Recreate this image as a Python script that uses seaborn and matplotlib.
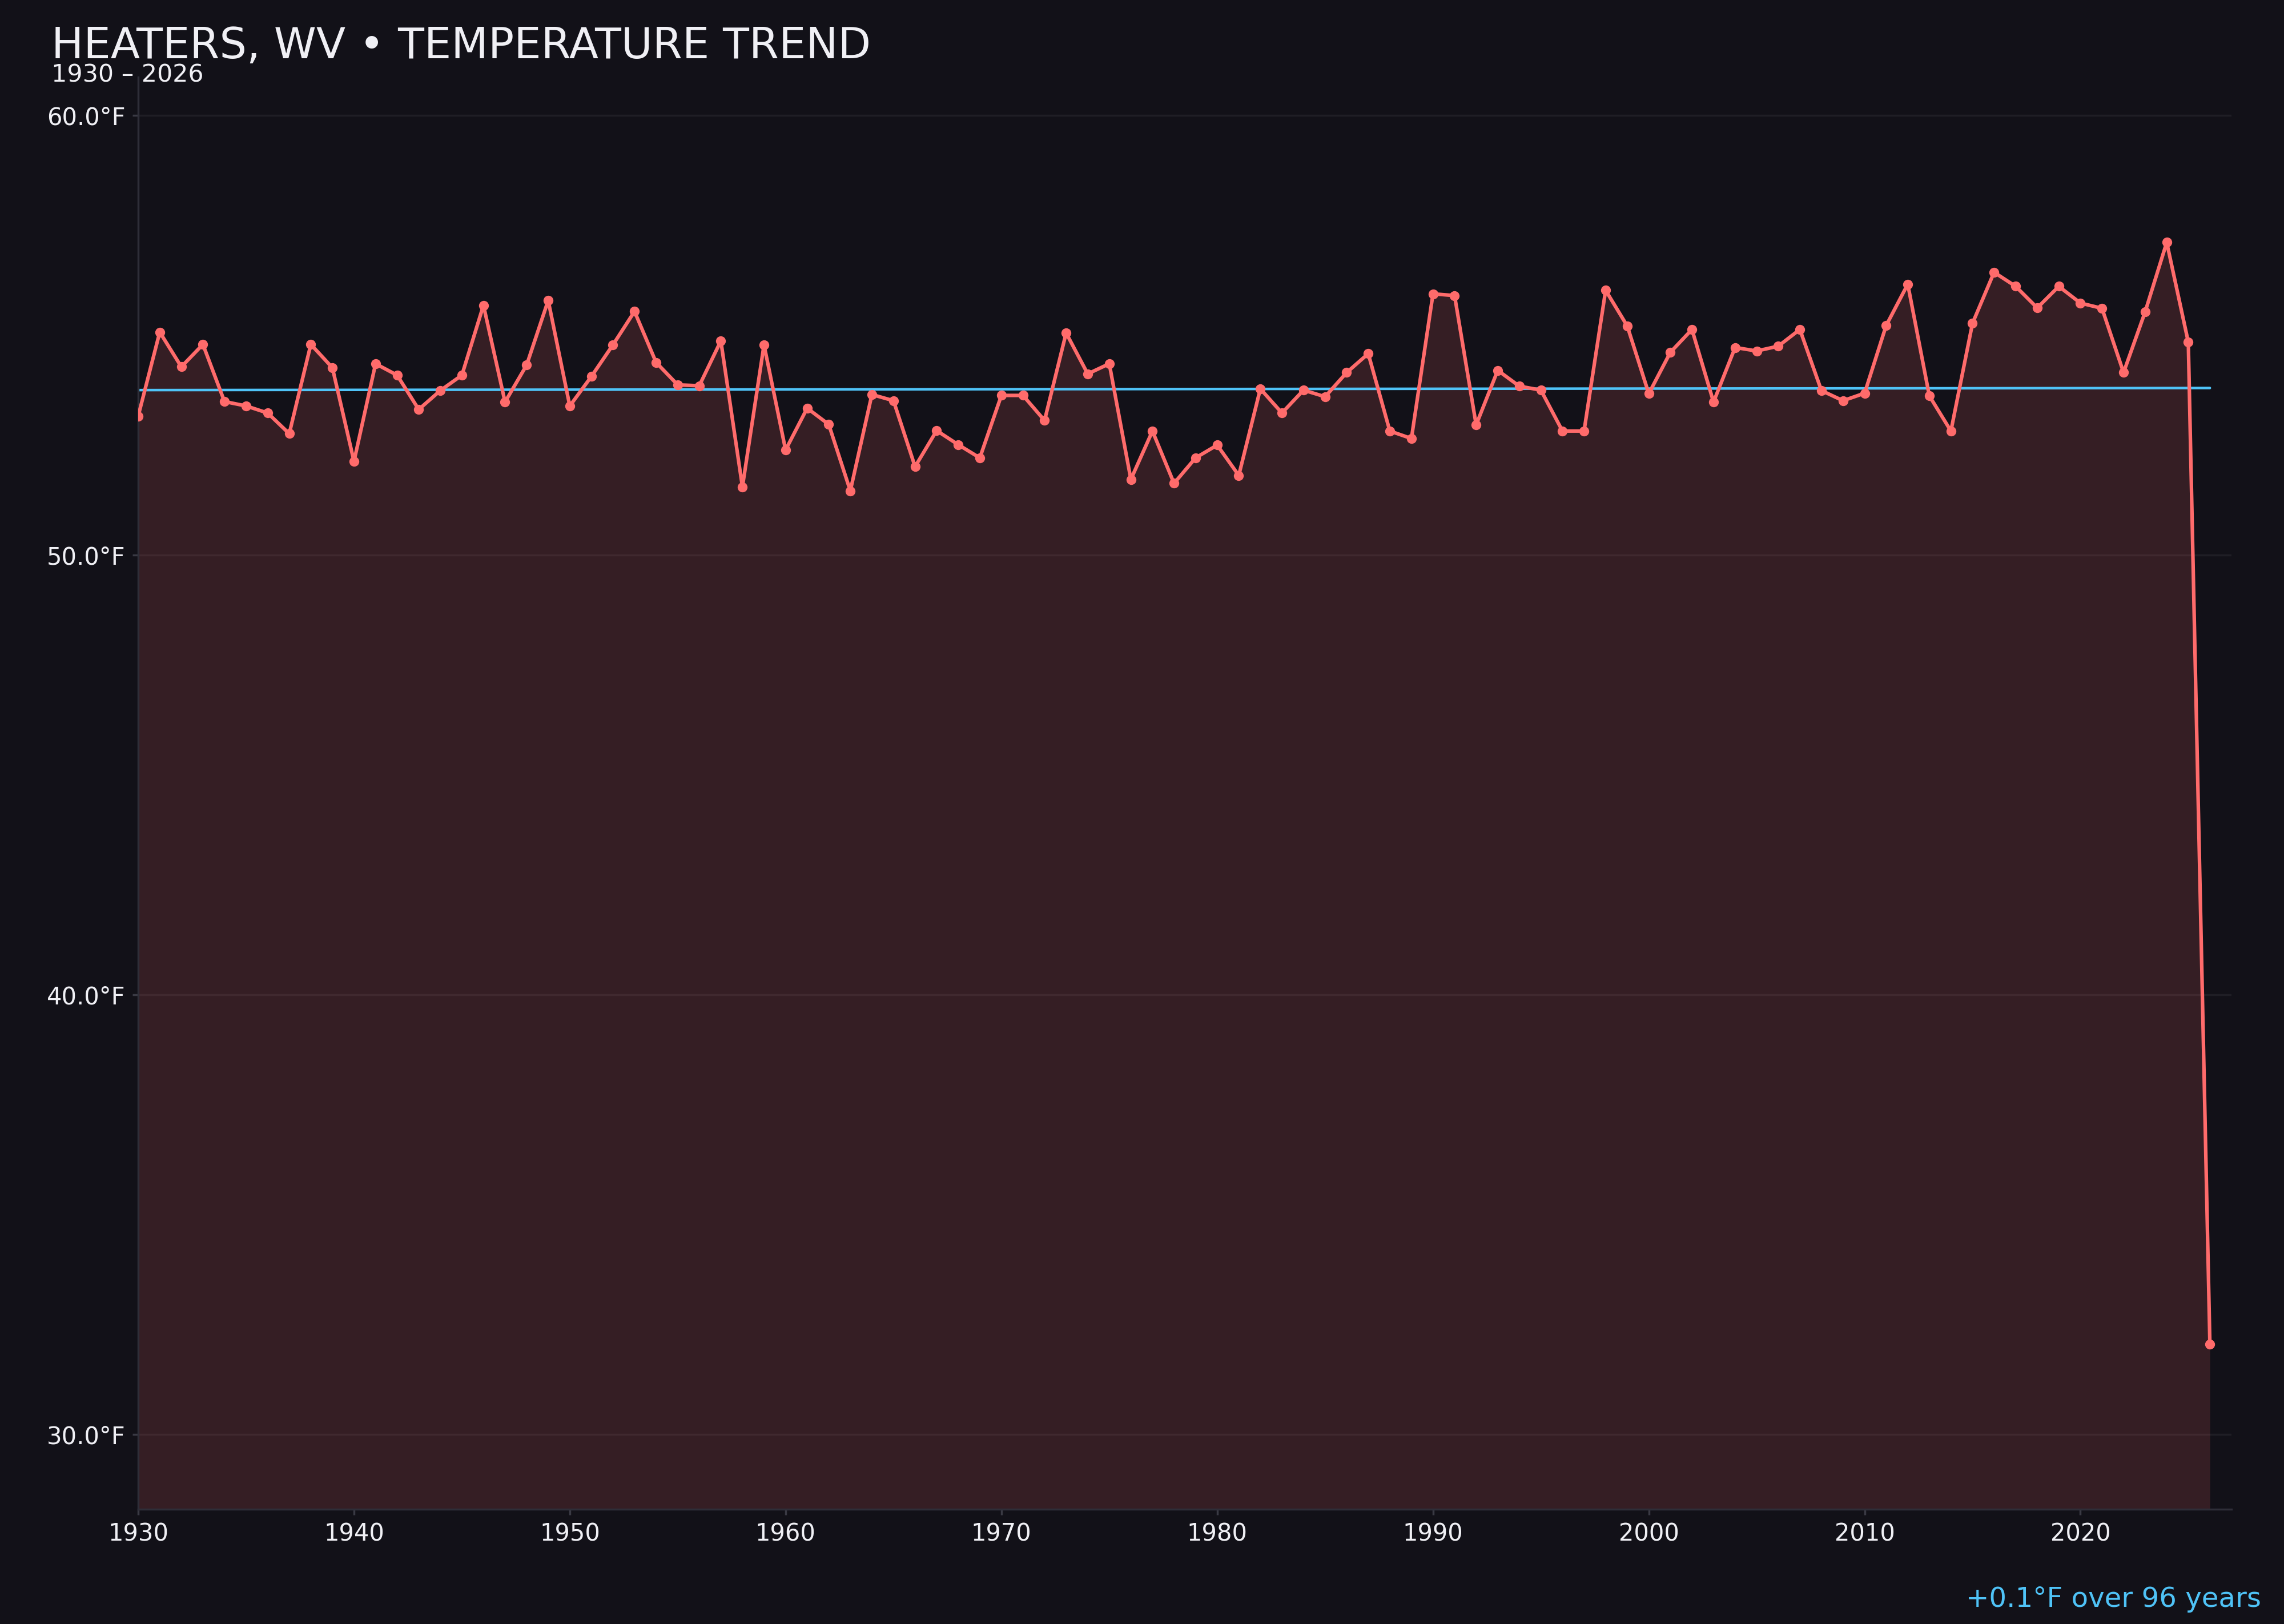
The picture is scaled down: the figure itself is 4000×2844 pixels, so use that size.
import numpy as np
import pandas as pd
import matplotlib
matplotlib.use("Agg")
import matplotlib.pyplot as plt
import seaborn as sns

years = list(range(1930, 2027))
temps = [
    53.16, 55.07, 54.28, 54.79, 53.49, 53.39, 53.23, 52.76, 54.79, 54.26,  # 1930s
    52.13, 54.35, 54.09, 53.31, 53.74, 54.09, 55.68, 53.48, 54.32, 55.79,  # 1940s
    53.39, 54.06, 54.78, 55.54, 54.38, 53.87, 53.85, 54.87, 51.55, 54.78,  # 1950s
    52.39, 53.34, 52.97, 51.46, 53.65, 53.51, 52.01, 52.83, 52.51, 52.21,  # 1960s
    53.63, 53.63, 53.06, 55.05, 54.12, 54.35, 51.72, 52.82, 51.63, 52.21,  # 1970s
    52.50, 51.81, 53.78, 53.23, 53.75, 53.60, 54.15, 54.58, 52.82, 52.65,  # 1980s
    55.94, 55.90, 52.96, 54.20, 53.84, 53.75, 52.82, 52.82, 56.02, 55.21,  # 1990s
    53.67, 54.61, 55.13, 53.48, 54.72, 54.64, 54.75, 55.13, 53.74, 53.51,  # 2000s
    53.68, 55.22, 56.16, 53.62, 52.82, 55.27, 56.43, 56.11, 55.62, 56.11,  # 2010s
    55.73, 55.61, 54.15, 55.53, 57.11, 54.84, 32.06,                       # 2020s
]
x_ticks = [1930, 1940, 1950, 1960, 1970, 1980, 1990, 2000, 2010, 2020]
y_ticks = [30, 40, 50, 60]
title = "HEATERS, WV • TEMPERATURE TREND"
subtitle = "1930 – 2026"
trend_label = "+0.1°F over 96 years"

BG = "#121118"
LINE = "#FF6B6B"
TREND = "#4FC3F7"
TEXT = "#F0F0F5"

df = pd.DataFrame({"year": years, "temp": temps})

sns.set_theme(style="dark")
plt.rcParams["font.family"] = ["DejaVu Sans"]

fig = plt.figure(figsize=(16, 11.376), dpi=250, facecolor=BG)
ax = fig.add_axes([0.0605, 0.0707, 0.9165, 0.8818])
ax.set_facecolor(BG)

tmin, tmax = df["temp"].min(), df["temp"].max()
rng = tmax - tmin
ylo, yhi = tmin - 0.15 * rng, tmax + 0.15 * rng

ax.fill_between(df["year"], df["temp"], ylo, color=LINE, alpha=0.15, linewidth=0, zorder=1)

coef = np.polyfit(df["year"], df["temp"], 1)
trend_df = pd.DataFrame({"year": [years[0], years[-1]]})
trend_df["temp"] = np.polyval(coef, trend_df["year"])
sns.lineplot(data=trend_df, x="year", y="temp", ax=ax, color=TREND, linewidth=1.3, zorder=2)

sns.lineplot(data=df, x="year", y="temp", ax=ax, color=LINE, linewidth=1.8,
             marker="o", markersize=5.0, markeredgewidth=0, zorder=3)

ax.set_xlim(1930, 2027)
ax.set_ylim(ylo, yhi)
ax.set_xticks(x_ticks)
ax.set_yticks(y_ticks)
ax.set_yticklabels([f"{v:.1f}°F" for v in y_ticks])
ax.set_xlabel("")
ax.set_ylabel("")

ax.grid(axis="y", color="#FFFFFF", alpha=0.06, linewidth=1.0)
ax.grid(axis="x", visible=False)
for side in ["top", "right"]:
    ax.spines[side].set_visible(False)
for side in ["left", "bottom"]:
    ax.spines[side].set_visible(True)
    ax.spines[side].set_color("#2E2E38")
    ax.spines[side].set_linewidth(1.0)
ax.tick_params(axis="both", colors="#3A3A44", labelcolor=TEXT, labelsize=12,
               length=3, width=1.0, bottom=True, left=True)

fig.text(0.0225, 0.9641, title, color=TEXT, fontsize=21.6, ha="left", va="baseline")
fig.text(0.0225, 0.9494, subtitle, color=TEXT, fontsize=12.3, ha="left", va="baseline")
fig.text(0.990, 0.0105, trend_label, color=TREND, fontsize=13.9, ha="right", va="baseline")

fig.savefig("out.png", dpi=250, facecolor=BG)
